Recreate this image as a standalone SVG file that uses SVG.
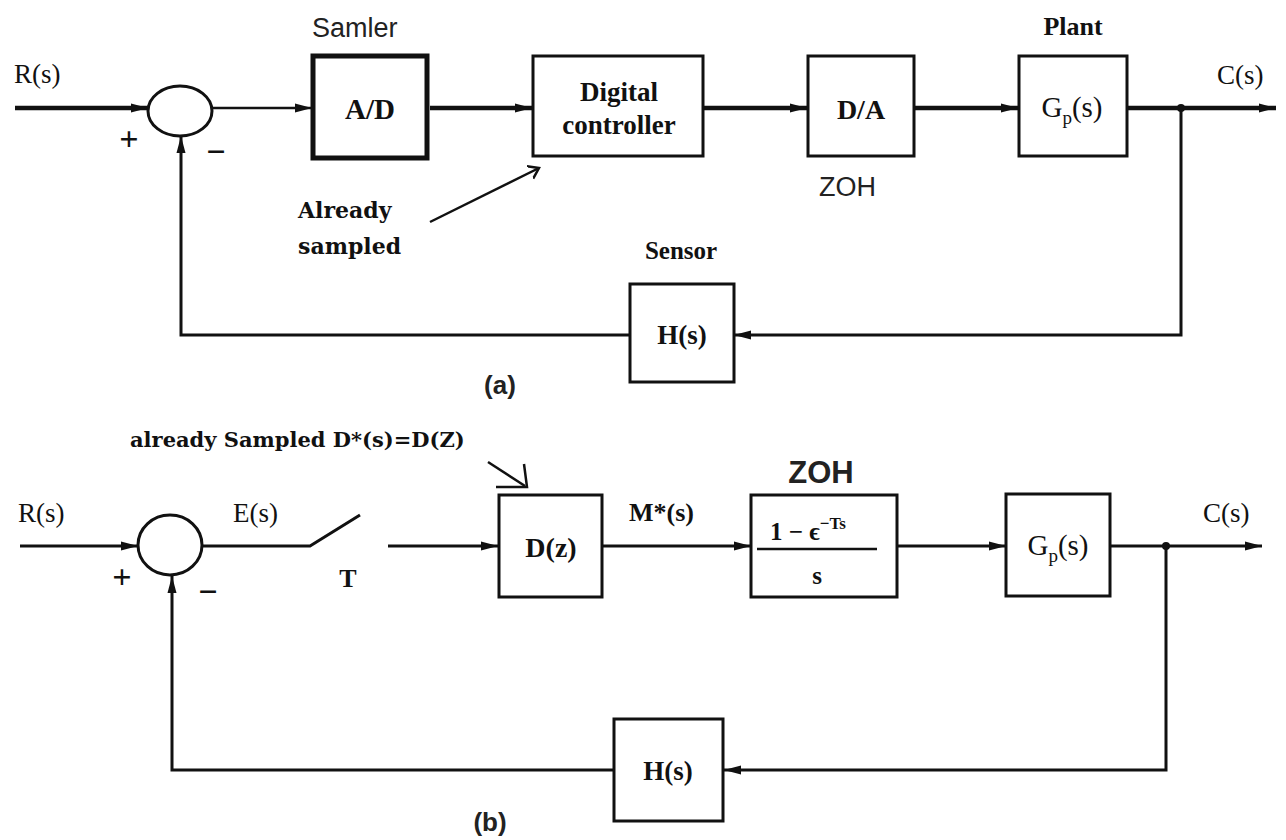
<svg xmlns="http://www.w3.org/2000/svg" width="1286" height="840" viewBox="0 0 1286 840">
<defs>
<marker id="ah" markerUnits="userSpaceOnUse" markerWidth="18" markerHeight="12" refX="17" refY="6" orient="auto">
<path d="M0,1.5 L17,6 L0,10.5 Z" fill="#111"/>
</marker>
<marker id="open" markerUnits="userSpaceOnUse" markerWidth="20" markerHeight="20" refX="10" refY="10" orient="auto">
<path d="M0,3 L10,10 L0,17" fill="none" stroke="#111" stroke-width="2.5"/>
</marker>
<style>
.box{fill:#fff;stroke:#111;stroke-width:3}
.thick{stroke-width:5}
.ln{fill:none;stroke:#111;stroke-width:3}
.lnb{fill:none;stroke:#111;stroke-width:4.5}
.lnt{fill:none;stroke:#111;stroke-width:2.5}
.sb{font-family:"Liberation Serif",serif;font-weight:bold;fill:#111}
.sr{font-family:"Liberation Serif",serif;fill:#111}
.sa{font-family:"Liberation Sans",sans-serif;fill:#222}
.dj{font-family:"DejaVu Serif",serif;font-weight:bold;fill:#111}
</style>
</defs>
<rect width="1286" height="840" fill="#fff"/>

<!-- ===== Diagram (a) ===== -->
<g id="connectors-a">
<line x1="15" y1="108" x2="148" y2="108" class="lnb" marker-end="url(#ah)"/>
<line x1="212" y1="108" x2="312" y2="108" class="lnt" marker-end="url(#ah)"/>
<line x1="430" y1="108" x2="532" y2="108" class="lnb" marker-end="url(#ah)"/>
<line x1="703" y1="108" x2="807" y2="108" class="lnb" marker-end="url(#ah)"/>
<line x1="914" y1="108" x2="1018" y2="108" class="lnb" marker-end="url(#ah)"/>
<line x1="1127" y1="108" x2="1276" y2="108" class="lnb" marker-end="url(#ah)"/>
<polyline points="1181,108 1181,335 734,335" class="ln" marker-end="url(#ah)"/>
<polyline points="630,335 181,335 181,136" class="ln" marker-end="url(#ah)"/>
<circle cx="1181" cy="108" r="4" fill="#111"/>
<line x1="430" y1="222" x2="539" y2="168" class="lnt" marker-end="url(#open)"/>
</g>
<g id="sum-a">
<ellipse cx="180" cy="111" rx="32" ry="25" fill="#fff" stroke="#111" stroke-width="3"/>
<text x="129" y="150" class="sb" font-size="34" text-anchor="middle">+</text>
<text x="216" y="163" class="sb" font-size="34" text-anchor="middle">−</text>
</g>
<g id="ad">
<rect x="313" y="56" width="114" height="102" class="box thick"/>
<text x="370" y="119" class="sb" font-size="29" text-anchor="middle">A/D</text>
<text x="312" y="37" class="sa" font-size="27">Samler</text>
</g>
<g id="dc">
<rect x="533" y="56" width="170" height="100" class="box"/>
<text x="619" y="101" class="sb" font-size="27" text-anchor="middle">Digital</text>
<text x="619" y="134" class="sb" font-size="27" text-anchor="middle">controller</text>
</g>
<g id="da">
<rect x="808" y="56" width="106" height="100" class="box"/>
<text x="861" y="119" class="sb" font-size="28" text-anchor="middle">D/A</text>
<text x="819" y="196" class="sa" font-size="27">ZOH</text>
</g>
<g id="gp-a">
<rect x="1019" y="56" width="108" height="100" class="box"/>
<text x="1072" y="117" class="sr" font-size="29" text-anchor="middle">G<tspan font-size="19" dy="7">p</tspan><tspan dy="-7">(s)</tspan></text>
<text x="1073" y="35" class="sb" font-size="26" text-anchor="middle">Plant</text>
</g>
<g id="h-a">
<rect x="630" y="284" width="104" height="98" class="box"/>
<text x="682" y="344" class="sb" font-size="27" text-anchor="middle">H(s)</text>
<text x="681" y="259" class="sb" font-size="25" text-anchor="middle">Sensor</text>
</g>
<g id="labels-a">
<text x="14" y="83" class="sr" font-size="27">R(s)</text>
<text x="1217" y="84" class="sr" font-size="27">C(s)</text>
<text x="298" y="218" class="dj" font-size="22">Already</text>
<text x="298" y="254" class="dj" font-size="22">sampled</text>
<text x="500" y="394" class="sa" font-size="26" font-weight="bold" text-anchor="middle" fill="#111">(a)</text>
</g>

<!-- ===== Diagram (b) ===== -->
<g id="connectors-b">
<line x1="20" y1="546" x2="138" y2="546" class="ln" marker-end="url(#ah)"/>
<polyline points="202,546 310,546 360,515" class="ln"/>
<line x1="388" y1="546" x2="498" y2="546" class="ln" marker-end="url(#ah)"/>
<line x1="602" y1="546" x2="751" y2="546" class="ln" marker-end="url(#ah)"/>
<line x1="897" y1="546" x2="1006" y2="546" class="ln" marker-end="url(#ah)"/>
<line x1="1110" y1="546" x2="1262" y2="546" class="ln" marker-end="url(#ah)"/>
<polyline points="1166,546 1166,770 724,770" class="ln" marker-end="url(#ah)"/>
<polyline points="614,770 172,770 172,576" class="ln" marker-end="url(#ah)"/>
<circle cx="1166" cy="546" r="4" fill="#111"/>
<line x1="488" y1="462" x2="525" y2="486" class="lnt"/>
<polyline points="496,487 527,487 524,464" class="lnt"/>
</g>
<g id="sum-b">
<ellipse cx="170" cy="545" rx="32" ry="30" fill="#fff" stroke="#111" stroke-width="3"/>
<text x="122" y="588" class="sb" font-size="34" text-anchor="middle">+</text>
<text x="208" y="603" class="sb" font-size="34" text-anchor="middle">−</text>
</g>
<g id="dz">
<rect x="499" y="495" width="103" height="102" class="box"/>
<text x="551" y="557" class="sb" font-size="28" text-anchor="middle">D(z)</text>
</g>
<g id="zoh-b">
<rect x="751" y="495" width="146" height="102" class="box"/>
<text x="821" y="483" class="sa" font-size="31" font-weight="bold" text-anchor="middle" fill="#1a1a2a">ZOH</text>
<text x="770" y="540" class="sb" font-size="25">1 − ϵ<tspan font-size="17" dy="-11">−Ts</tspan></text>
<line x1="757" y1="549" x2="877" y2="549" stroke="#111" stroke-width="2.5"/>
<text x="817" y="584" class="sb" font-size="25" text-anchor="middle">s</text>
</g>
<g id="gp-b">
<rect x="1006" y="494" width="104" height="102" class="box"/>
<text x="1058" y="555" class="sr" font-size="29" text-anchor="middle">G<tspan font-size="19" dy="7">p</tspan><tspan dy="-7">(s)</tspan></text>
</g>
<g id="h-b">
<rect x="614" y="719" width="109" height="102" class="box"/>
<text x="668" y="780" class="sb" font-size="27" text-anchor="middle">H(s)</text>
</g>
<g id="labels-b">
<text x="130" y="447" class="dj" font-size="21">already Sampled D*(s)=D(Z)</text>
<text x="18" y="522" class="sr" font-size="27">R(s)</text>
<text x="233" y="522" class="sr" font-size="27">E(s)</text>
<text x="348" y="587" class="sb" font-size="26" text-anchor="middle">T</text>
<text x="629" y="521" class="sb" font-size="26">M*(s)</text>
<text x="1203" y="522" class="sr" font-size="27">C(s)</text>
<text x="490" y="831" class="sa" font-size="26" font-weight="bold" text-anchor="middle" fill="#111">(b)</text>
</g>
</svg>
